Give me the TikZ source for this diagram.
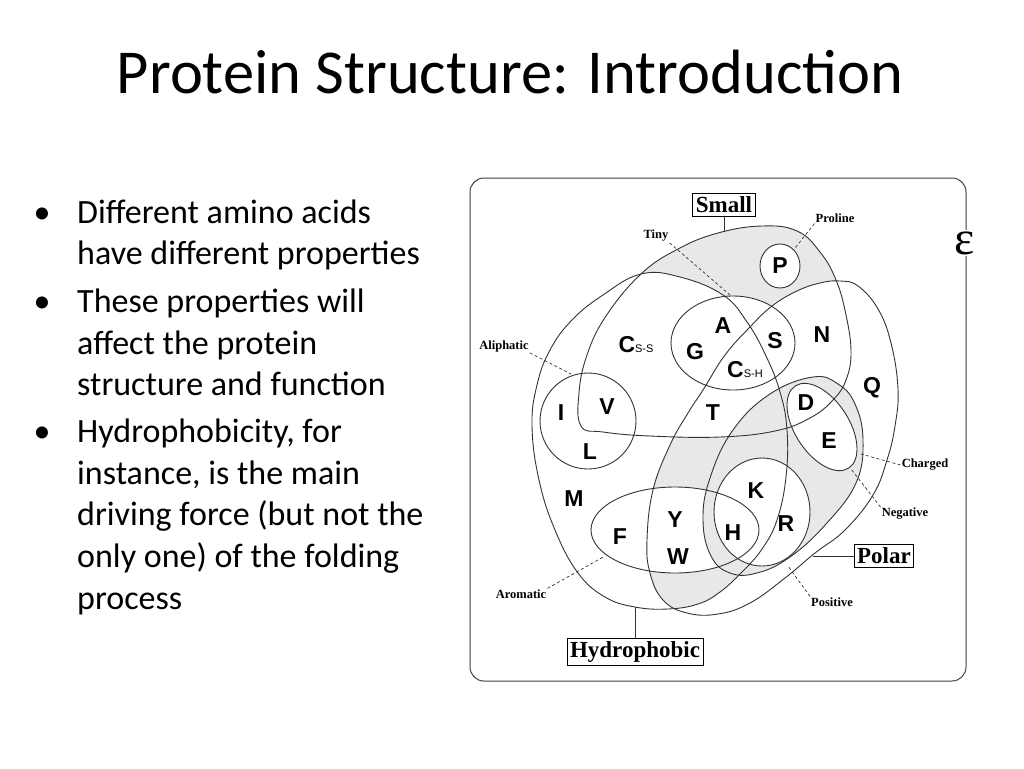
\documentclass[tikz,border=0pt]{standalone}
\usepackage{fontspec}
\setmainfont{Carlito}
\newfontfamily\serifff{Liberation Serif}
\newfontfamily\sansff{Liberation Sans}
\begin{document}
\begin{tikzpicture}[x=1pt,y=-1pt,
  outline/.style={draw=black!80, line width=0.9pt},
  leader/.style={draw=black!80, line width=0.7pt, dash pattern=on 3pt off 2.5pt},
  conn/.style={draw=black!80, line width=0.9pt},
  bigbox/.style={draw=black, line width=0.9pt, fill=white, inner sep=3pt, font=\serifff\bfseries\fontsize{23}{23}\selectfont},
  tag/.style={inner sep=1pt, font=\serifff\bfseries\fontsize{12.5}{13}\selectfont},
  aa/.style={inner sep=0pt, font=\sansff\bfseries\fontsize{23}{23}\selectfont},
  bul/.style={anchor=base west, inner sep=0pt, font=\fontsize{34}{34}\selectfont},
  dot/.style={anchor=base, inner sep=0pt, font=\fontsize{34}{34}\selectfont}]
\definecolor{greyfill}{RGB}{232,232,232}
\useasboundingbox (0,0) rectangle (1024,768);
\fill[white] (0,0) rectangle (1024,768);

% title
\node[anchor=base, inner sep=0pt, font=\fontsize{62.5}{62.5}\selectfont] (title) at (510,93) {Protein Structure: Introduction};

% bullets
\node[dot] (b1) at (42,223) {•};
\node[bul] (t1a) at (77,223) {Different amino acids};
\node[bul] (t1b) at (77,264) {have different properties};
\node[dot] (b2) at (42,312) {•};
\node[bul] (t2a) at (77,312) {These properties will};
\node[bul] (t2b) at (77,354) {affect the protein};
\node[bul] (t2c) at (77,395) {structure and function};
\node[dot] (b3) at (42,442) {•};
\node[bul] (t3a) at (77,442) {Hydrophobicity, for};
\node[bul] (t3b) at (77,484) {instance, is the main};
\node[bul] (t3c) at (77,525) {driving force (but not the};
\node[bul] (t3d) at (77,567) {only one) of the folding};
\node[bul] (t3e) at (77,609) {process};

% frame
\draw[draw=black!75, line width=1pt, rounded corners=14pt] (470,178) rectangle (966,681);

% region paths
\def\pHY{plot[smooth cycle,tension=0.7] coordinates {(641,274) (680,277) (723,295) (747,322) (766,356) (780,392) (787,430) (786,477) (777,520) (762,549) (742,572) (720,592) (698,604) (668,609) (635,607) (605,597) (578,573) (555,530) (539,480) (532,426) (537,385) (550,350) (572,320) (603,295)}}
\def\pSM{plot[smooth cycle,tension=0.7] coordinates {(581,426) (579,393) (587,355) (606,316) (641,274) (678,249) (718,233) (762,226) (797,231) (820,252) (836,280) (846,315) (851,352) (846,380) (833,400) (810,418) (775,431) (720,437) (650,436) (603,432)}}
\def\pPO{plot[smooth cycle,tension=0.7] coordinates {(703,390) (725,355) (750,327) (772,306) (797,291) (820,283) (840,281) (858,286) (878,309) (891,343) (898,389) (895,426) (887,460) (873,495) (845,530) (815,553) (785,578) (750,603) (718,614) (687,613) (663,600) (650,573) (647,540) (653,490) (670,445) (688,413)}}
\def\pCH{plot[smooth cycle,tension=0.7] coordinates {(813,377) (838,384) (855,404) (863,440) (856,483) (826,524) (790,557) (757,573) (730,573) (711,556) (703,520) (710,478) (733,430) (770,394)}}
\def\pTI{(733,343) ellipse [x radius=62, y radius=47]}
\def\pPR{(780,266) ellipse [x radius=20, y radius=22]}
\def\pAL{(588,421) ellipse [x radius=48, y radius=48]}
\def\pAR{(675,530) ellipse [x radius=84, y radius=43]}
\def\pPS{(762,512) ellipse [x radius=48, y radius=54]}

% shading
\fill[greyfill] \pSM;
\fill[white] \pHY;
\fill[white] \pPO;
\fill[white] \pTI;
\fill[white] \pPR;
\begin{scope}
  \clip \pPO;
  \fill[greyfill] \pHY;
  \clip \pHY;
  \fill[white] \pSM;
  \fill[white] \pAR;
\end{scope}
\fill[greyfill] \pCH;
\fill[white] \pPS;
\begin{scope}[shift={(822,427)}, rotate=-57]
  \fill[white] (0,0) ellipse [x radius=49, y radius=27];
\end{scope}

% outlines
\draw[outline] \pHY;
\draw[outline] \pSM;
\draw[outline] \pPO;
\draw[outline] \pCH;
\draw[outline] \pTI;
\draw[outline] \pPR;
\draw[outline] \pAL;
\draw[outline] \pAR;
\draw[outline] \pPS;
\begin{scope}[shift={(822,427)}, rotate=-57]
  \draw[outline] (0,0) ellipse [x radius=49, y radius=27];
\end{scope}

% amino acids
\node[aa] (P) at (780,266) {P};
\node[aa] (A) at (723,326) {A};
\node[aa] (S) at (775,341) {S};
\node[aa] (N) at (822,335) {N};
\node[aa] (Css) at (636,345) {C{\sansff\mdseries\fontsize{11}{11}\selectfont S-S}};
\node[aa] (G) at (695,352) {G};
\node[aa] (Csh) at (745,370) {C{\sansff\mdseries\fontsize{11}{11}\selectfont S-H}};
\node[aa] (D) at (806,403) {D};
\node[aa] (Q) at (872,388) {Q};
\node[aa] (I) at (561,413) {I};
\node[aa] (V) at (607,407) {V};
\node[aa] (T) at (713,413) {T};
\node[aa] (E) at (829,441) {E};
\node[aa] (L) at (590,452) {L};
\node[aa] (K) at (756,491) {K};
\node[aa] (M) at (574,499) {M};
\node[aa] (Y) at (675,520) {Y};
\node[aa] (R) at (786,524) {R};
\node[aa] (H) at (733,533) {H};
\node[aa] (F) at (620,537) {F};
\node[aa] (W) at (678,557) {W};

% boxes and connectors
\node[bigbox] (small) at (724,205) {Small};
\node[bigbox] (hydro) at (635,652) {Hydrophobic};
\node[bigbox] (polar) at (884,556) {Polar};
\coordinate (smtop) at (724,231);
\coordinate (hybot) at (635,607);
\coordinate (poedge) at (813,556);
\draw[conn] (small.south) -- (smtop);
\draw[conn] (hybot) -- (hydro.north);
\draw[conn] (poedge) -- (polar.west);

% small tags and leaders
\node[tag] (tinyl) at (656,236) {Tiny};
\node[tag] (prol) at (835,218) {Proline};
\node[tag] (alil) at (504,346) {Aliphatic};
\node[tag] (chgl) at (925,465) {Charged};
\node[tag] (negl) at (905,514) {Negative};
\node[tag] (posl) at (832,602) {Positive};
\node[tag] (arol) at (521,594) {Aromatic};
\coordinate (tinye) at (730,295);
\coordinate (proe) at (795,248);
\coordinate (alie) at (571,374);
\coordinate (chge) at (861,454);
\coordinate (nege) at (851,469);
\coordinate (pose) at (788,566);
\coordinate (aroe) at (605,556);
\draw[leader] (tinyl.south east) -- (tinye);
\draw[leader] (prol.south west) -- (proe);
\draw[leader] (alil.south east) -- (alie);
\draw[leader] (chgl.west) -- (chge);
\draw[leader] (negl.north west) -- (nege);
\draw[leader] (posl.north west) -- (pose);
\draw[leader] (arol.north east) -- (aroe);

% epsilon
\node[fill=white, inner sep=1pt, font=\serifff\fontsize{48}{48}\selectfont] (eps) at (965,243) {ε};
\end{tikzpicture}
\end{document}
